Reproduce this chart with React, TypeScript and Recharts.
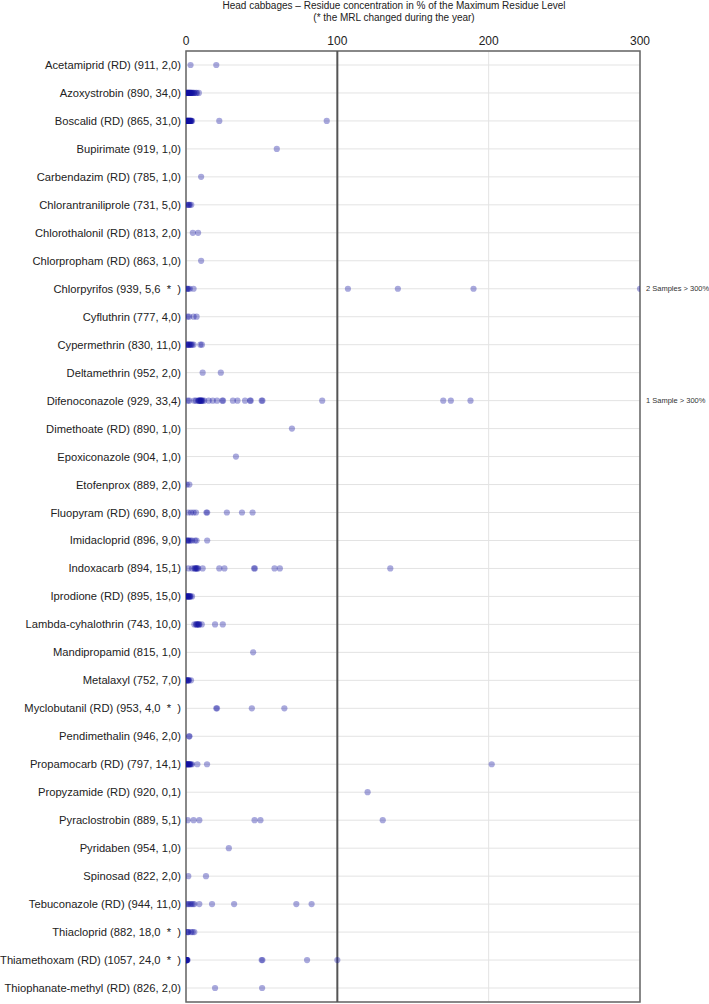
import { CartesianGrid, ReferenceArea, ReferenceDot, ReferenceLine, Scatter, ScatterChart, XAxis, YAxis } from "recharts";

const substances = [
  "Acetamiprid (RD) (911, 2,0)",
  "Azoxystrobin (890, 34,0)",
  "Boscalid (RD) (865, 31,0)",
  "Bupirimate (919, 1,0)",
  "Carbendazim (RD) (785, 1,0)",
  "Chlorantraniliprole (731, 5,0)",
  "Chlorothalonil (RD) (813, 2,0)",
  "Chlorpropham (RD) (863, 1,0)",
  "Chlorpyrifos (939, 5,6  *  )",
  "Cyfluthrin (777, 4,0)",
  "Cypermethrin (830, 11,0)",
  "Deltamethrin (952, 2,0)",
  "Difenoconazole (929, 33,4)",
  "Dimethoate (RD) (890, 1,0)",
  "Epoxiconazole (904, 1,0)",
  "Etofenprox (889, 2,0)",
  "Fluopyram (RD) (690, 8,0)",
  "Imidacloprid (896, 9,0)",
  "Indoxacarb (894, 15,1)",
  "Iprodione (RD) (895, 15,0)",
  "Lambda-cyhalothrin (743, 10,0)",
  "Mandipropamid (815, 1,0)",
  "Metalaxyl (752, 7,0)",
  "Myclobutanil (RD) (953, 4,0  *  )",
  "Pendimethalin (946, 2,0)",
  "Propamocarb (RD) (797, 14,1)",
  "Propyzamide (RD) (920, 0,1)",
  "Pyraclostrobin (889, 5,1)",
  "Pyridaben (954, 1,0)",
  "Spinosad (822, 2,0)",
  "Tebuconazole (RD) (944, 11,0)",
  "Thiacloprid (882, 18,0  *  )",
  "Thiamethoxam (RD) (1057, 24,0  *  )",
  "Thiophanate-methyl (RD) (826, 2,0)",
];

// residue in % of MRL, one array per substance
const acetamiprid = [3, 20];
const azoxystrobin = [0.3, 0.6, 1, 1, 1.3, 1.5, 1.8, 2, 2.2, 2.5, 2.8, 3, 3.3, 3.6, 4, 4.5, 5, 5.5, 6.5, 7.2, 8.5];
const boscalid = [0.2, 0.4, 0.6, 0.8, 1, 1, 1.2, 1.5, 1.5, 1.8, 2, 2, 2.2, 2.5, 2.8, 3, 3, 3.3, 3.6, 4, 22, 93];
const bupirimate = [60];
const carbendazim = [10];
const chlorantraniliprole = [0.5, 1.5, 2, 2.5, 3.5];
const chlorothalonil = [4.5, 8];
const chlorpropham = [10];
const chlorpyrifos = [0.5, 1, 1.5, 2.5, 5, 107, 140, 190, 300];
const cyfluthrin = [1, 2, 5, 7];
const cypermethrin = [0.3, 0.8, 1.2, 1.8, 2.2, 2.8, 3.3, 4, 5, 9.5, 10.5];
const deltamethrin = [11, 23];
const difenoconazole = [1.1, 2.2, 5.5, 6.6, 8, 8.5, 9, 9, 9.5, 10, 10, 10.5, 11, 12, 15, 17.7, 20.5, 24, 24.5, 31, 34, 39, 42.3, 42.8, 50, 50.5, 90, 170, 175, 188];
const dimethoate = [70];
const epoxiconazole = [33];
const etofenprox = [0.5, 2.2];
const fluopyram = [1.5, 3.3, 5, 6.6, 13.5, 14, 27, 37, 44];
const imidacloprid = [0.5, 1, 1.5, 2, 3, 4, 6, 7, 14];
const indoxacarb = [1.5, 4, 5.5, 6, 6.5, 7, 7.5, 8, 11, 22, 25.4, 45, 45.5, 58.5, 62, 135];
const iprodione = [0, 0.3, 0.6, 1, 1.3, 1.6, 2, 2.3, 2.6, 3, 4];
const lambdaCyhalothrin = [5.5, 6.6, 7, 7.5, 8, 8.5, 8.8, 10.4, 19.2, 24.3];
const mandipropamid = [44.4];
const metalaxyl = [0, 0.5, 1, 1.3, 1.6, 2, 3.3];
const myclobutanil = [20, 20.5, 43.5, 65];
const pendimethalin = [2, 2.3];
const propamocarb = [0, 0.3, 0.6, 0.9, 1.2, 1.5, 1.8, 2.1, 2.4, 2.8, 3.2, 4, 7.5, 13.9, 202];
const propyzamide = [120];
const pyraclostrobin = [1.1, 5, 8.8, 45.3, 49.2, 130];
const pyridaben = [28.3];
const spinosad = [1.5, 13.2];
const tebuconazole = [0.5, 1.5, 2.5, 3.5, 4.5, 5.5, 8.8, 17.2, 31.8, 72.9, 83];
const thiacloprid = [0.8, 1.2, 1.6, 3.3, 4.4, 5.5];
const thiamethoxam = [0, 0, 0.2, 0.3, 0.4, 0.5, 0.6, 0.8, 1, 50, 50.5, 80, 100];
const thiophanateMethyl = [19.2, 50.3];

const residues = [
  acetamiprid, azoxystrobin, boscalid, bupirimate, carbendazim, chlorantraniliprole, chlorothalonil,
  chlorpropham, chlorpyrifos, cyfluthrin, cypermethrin, deltamethrin, difenoconazole, dimethoate,
  epoxiconazole, etofenprox, fluopyram, imidacloprid, indoxacarb, iprodione, lambdaCyhalothrin,
  mandipropamid, metalaxyl, myclobutanil, pendimethalin, propamocarb, propyzamide, pyraclostrobin,
  pyridaben, spinosad, tebuconazole, thiacloprid, thiamethoxam, thiophanateMethyl,
];

const overLimitNotes = [
  { row: 8, text: "2 Samples > 300%" },
  { row: 12, text: "1 Sample > 300%" },
];

const xTicks = [0, 100, 200, 300];

const points = residues.flatMap((vals, row) => vals.map((v) => ({ x: v, y: row })));
const rowTicks = substances.map((_, i) => i);

const FONT = "'Liberation Sans', Arial, sans-serif";

function RowLabel(props: any) {
  const { x, y, payload } = props;
  return (
    <text x={x} y={y} dy={4} textAnchor="end" fontSize={11.2} fill="#222" fontFamily={FONT} style={{ whiteSpace: "pre" }}>
      {substances[payload.value]}
    </text>
  );
}

function Dot(props: any) {
  return <circle cx={props.cx} cy={props.cy} r={3.1} fill="#1010a0" fillOpacity={0.36} />;
}

export default function App() {
  return (
    <div style={{ position: "absolute", left: 0, top: 0, width: 709, height: 1004, background: "#fff", fontFamily: FONT }}>
      <div style={{ position: "absolute", left: 394 - 250, top: 0, width: 500, textAlign: "center", fontSize: 10, lineHeight: "12px", color: "#222" }}>
        <div>Head cabbages – Residue concentration in % of the Maximum Residue Level</div>
        <div>(* the MRL changed during the year)</div>
      </div>
      <ScatterChart width={709} height={1004} margin={{ top: 25, right: 69, bottom: 2, left: 0 }}>
        <CartesianGrid stroke="#e3e3e3" />
        <XAxis
          type="number"
          dataKey="x"
          orientation="top"
          domain={[0, 300]}
          ticks={xTicks}
          height={26}
          axisLine={false}
          tickLine={false}
          tickSize={0}
          tickMargin={6}
          tick={{ fontSize: 12, fill: "#222", fontFamily: FONT }}
          allowDataOverflow
        />
        <YAxis
          type="number"
          dataKey="y"
          domain={[-0.5, substances.length - 0.5]}
          ticks={rowTicks}
          reversed
          width={186}
          axisLine={false}
          tickLine={false}
          tickSize={0}
          tickMargin={5}
          interval={0}
          tick={<RowLabel />}
        />
        <ReferenceArea x1={0} x2={300} y1={-0.5} y2={substances.length - 0.5} fill="none" stroke="#666" strokeWidth={1.5} />
        <ReferenceLine x={100} stroke="#555" strokeWidth={2} />
        <Scatter data={points} shape={<Dot />} isAnimationActive={false} />
        {overLimitNotes.map((n) => (
          <ReferenceDot
            key={n.row}
            x={300}
            y={n.row}
            r={0}
            stroke="none"
            ifOverflow="visible"
            label={{ value: n.text, position: "right", offset: 6, fontSize: 7.5, fill: "#333", fontFamily: FONT }}
          />
        ))}
      </ScatterChart>
    </div>
  );
}
